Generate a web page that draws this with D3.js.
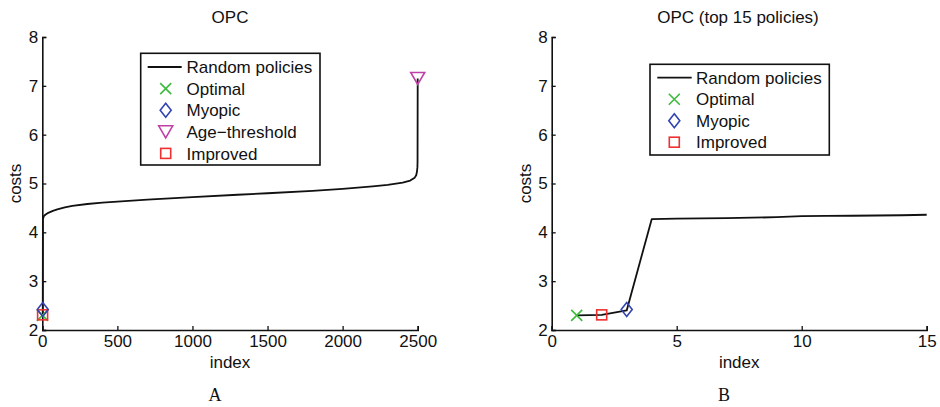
<!DOCTYPE html>
<html><head><meta charset="utf-8">
<script src="https://cdn.jsdelivr.net/npm/d3@7"></script>
<style>
body{margin:0;background:#fff;}
text{font-family:"Liberation Sans",Arial,sans-serif;fill:#111;}
</style></head><body>
<svg id="chart" width="940" height="407"></svg>
<script>
// ---- data ----
const indexA = [1,2,3,4,5,10,20,40,70,100,150,200,300,400,500,700,1000,1300,1500,1800,2000,2200,2300,2400,2450,2480,2490,2495,2498,2499,2500];
const costsA = [2.30,2.31,2.40,4.27,4.28,4.33,4.36,4.40,4.44,4.47,4.51,4.54,4.58,4.61,4.63,4.67,4.72,4.77,4.80,4.85,4.89,4.94,4.97,5.02,5.06,5.12,5.17,5.24,5.33,5.45,7.15];
// Panel B: top 15 policies
const indexB = [1,2,3,4,5,6,7,8,9,10,11,12,13,14,15];
const costsB = [2.30,2.31,2.40,4.27,4.28,4.285,4.29,4.30,4.31,4.33,4.335,4.34,4.345,4.35,4.36];
// Special policies
const optimal = {index:1, cost:2.30};
const improved = {index:2, cost:2.31};
const myopic = {index:3, cost:2.42};
const ageThreshold = {index:2500, cost:7.15};
const xTicksA = [0,500,1000,1500,2000,2500];
const xTicksB = [0,5,10,15];
const yTicks = [2,3,4,5,6,7,8];
const legendA = ["Random policies","Optimal","Myopic","Age\u2212threshold","Improved"];
const legendB = ["Random policies","Optimal","Myopic","Improved"];

const colors = {line:"#111", Optimal:"#3dbb3d", Myopic:"#3344b0", "Age\u2212threshold":"#c040a8", Improved:"#ee3030"};
const FS = 17;
const svg = d3.select("#chart");

function marker(g, type, x, y){
  const c = colors[type];
  if(type==="Optimal"){
    const s=5.5;
    g.append("path").attr("d",`M${x-s},${y-s}L${x+s},${y+s}M${x-s},${y+s}L${x+s},${y-s}`)
      .attr("stroke",c).attr("stroke-width",1.6).attr("fill","none");
  } else if(type==="Myopic"){
    g.append("path").attr("d",`M${x},${y-7}L${x+5.5},${y}L${x},${y+7}L${x-5.5},${y}Z`)
      .attr("stroke",c).attr("stroke-width",1.6).attr("fill","none");
  } else if(type==="Improved"){
    g.append("rect").attr("x",x-5).attr("y",y-5).attr("width",10).attr("height",10)
      .attr("stroke",c).attr("stroke-width",1.6).attr("fill","none");
  } else if(type==="Age\u2212threshold"){
    g.append("path").attr("d",`M${x-7},${y-6}L${x+7},${y-6}L${x},${y+6}Z`)
      .attr("stroke",c).attr("stroke-width",1.6).attr("fill","none");
  }
}

function panel(opts){
  const x = d3.scaleLinear().domain(opts.xDomain).range(opts.xRange);
  const y = d3.scaleLinear().domain([2,8]).range([330,37]);
  const g = svg.append("g");

  // axes
  const ax = g.append("g").attr("transform",`translate(0,${y.range()[0]})`)
    .call(d3.axisBottom(x).tickValues(opts.xTicks).tickSize(-4).tickPadding(5).tickFormat(d3.format("d")));
  const ay = g.append("g").attr("transform",`translate(${x.range()[0]},0)`)
    .call(d3.axisLeft(y).tickValues(yTicks).tickSize(-4).tickPadding(4).tickFormat(d3.format("d")));
  [ax,ay].forEach(a=>{
    a.select(".domain").attr("stroke","#111").attr("stroke-width",1.6);
    a.selectAll(".tick line").attr("stroke","#111").attr("stroke-width",1.3);
    a.selectAll(".tick text").attr("font-size",FS).attr("fill","#111")
      .style("font-family","'Liberation Sans',Arial,sans-serif");
  });
  ax.selectAll(".tick text").attr("dy","0.72em");

  // line
  const line = d3.line().x(d=>x(d[0])).y(d=>y(d[1]));
  g.append("path").datum(d3.zip(opts.idx, opts.costs)).attr("d",line)
    .attr("fill","none").attr("stroke",colors.line).attr("stroke-width",1.8).attr("stroke-linejoin","round");

  // markers
  opts.markers.forEach(m=>marker(g, m.type, x(m.p.index), y(m.p.cost)));

  // labels
  const cx = (x.range()[0]+x.range()[1])/2;
  g.append("text").attr("x",opts.titleX).attr("y",23).attr("text-anchor","middle").attr("font-size",FS).text(opts.title);
  g.append("text").attr("x",cx).attr("y",368).attr("text-anchor","middle").attr("font-size",FS).text("index");
  g.append("text").attr("transform",`translate(${opts.ylabX},183.5) rotate(-90)`).attr("text-anchor","middle")
    .attr("font-size",FS).text("costs");
  g.append("text").attr("x",opts.letterX).attr("y",401).attr("text-anchor","middle").attr("font-size",18)
    .style("font-family","'Liberation Serif','Times New Roman',serif").text(opts.letter);

  // legend
  const L = opts.legend;
  const lg = g.append("g");
  lg.append("rect").attr("x",L.x0).attr("y",L.y0).attr("width",L.x1-L.x0).attr("height",L.y1-L.y0)
    .attr("fill","#fff").attr("stroke","#111").attr("stroke-width",1.6);
  opts.legendItems.forEach((name,i)=>{
    const yy = L.firstY + i*L.step;
    if(name==="Random policies"){
      lg.append("line").attr("x1",L.lineX0).attr("x2",L.lineX1).attr("y1",yy).attr("y2",yy)
        .attr("stroke",colors.line).attr("stroke-width",1.8);
    } else {
      marker(lg, name, L.markX, yy);
    }
    lg.append("text").attr("x",L.textX).attr("y",yy).attr("dy","0.36em").attr("font-size",FS).text(name);
  });
}

panel({
  xDomain:[0,2500], xRange:[42.3,417.7], xTicks:xTicksA, idx:indexA, costs:costsA,
  markers:[{type:"Age\u2212threshold",p:ageThreshold},{type:"Optimal",p:optimal},{type:"Improved",p:improved},{type:"Myopic",p:myopic}],
  title:"OPC", titleX:230, ylabX:21, letter:"A", letterX:215,
  legendItems:legendA,
  legend:{x0:140.7,x1:320,y0:53.3,y1:165,firstY:67,step:21.6,lineX0:147.7,lineX1:181.7,markX:165.7,textX:186.5}
});
panel({
  xDomain:[0,15], xRange:[551.7,926.7], xTicks:xTicksB, idx:indexB, costs:costsB,
  markers:[{type:"Optimal",p:optimal},{type:"Improved",p:improved},{type:"Myopic",p:myopic}],
  title:"OPC (top 15 policies)", titleX:738, ylabX:531, letter:"B", letterX:724,
  legendItems:legendB,
  legend:{x0:650,x1:829.3,y0:64.3,y1:155,firstY:77.7,step:21.5,lineX0:657.3,lineX1:691.7,markX:674.3,textX:696}
});
</script>
</body></html>
